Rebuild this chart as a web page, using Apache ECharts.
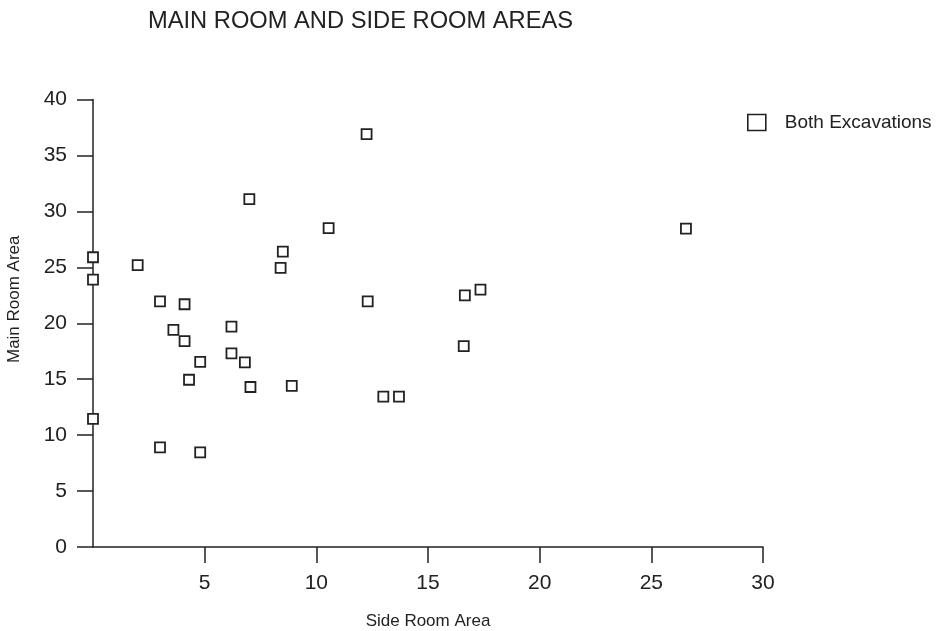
<!DOCTYPE html>
<html>
<head>
<meta charset="utf-8">
<script src="https://cdn.jsdelivr.net/npm/echarts@6/dist/echarts.min.js"></script>
<style>
  html, body { margin: 0; padding: 0; background: #ffffff; }
  #chart { width: 939px; height: 631px; }
</style>
</head>
<body>
<div id="chart"></div>
<script>
// Side room area (x) and main room area (y) for each house, both excavations
const sideRoomArea = [
  0, 0, 2.0, 7.0, 12.25, 10.55, 8.5, 8.4,
  3.0, 4.1, 3.6, 6.2, 4.1, 6.2, 4.8, 6.8, 4.3, 7.05, 8.9,
  0, 3.0, 4.8,
  12.3, 16.65, 17.35, 16.6, 13.0, 13.7,
  26.55
];
const mainRoomArea = [
  25.9, 23.9, 25.2, 31.1, 36.9, 28.5, 26.4, 24.95,
  21.95, 21.7, 19.4, 19.7, 18.4, 17.3, 16.55, 16.5, 14.95, 14.3, 14.4,
  11.45, 8.9, 8.45,
  21.95, 22.5, 23.0, 17.95, 13.45, 13.45,
  28.45
];
const xTicks = [5, 10, 15, 20, 25, 30];
const yTicks = [0, 5, 10, 15, 20, 25, 30, 35, 40];

const points = sideRoomArea.map((x, i) => [x, mainRoomArea[i]]);
const ink = '#222222';

const chart = echarts.init(document.getElementById('chart'), null, { renderer: 'canvas' });
chart.setOption({
  backgroundColor: '#ffffff',
  animation: false,
  title: {
    text: 'MAIN ROOM AND SIDE ROOM AREAS',
    left: 148,
    top: 9,
    padding: 0,
    textStyle: { fontFamily: 'Liberation Sans', fontWeight: 'normal', fontSize: 23.7, color: ink }
  },
  legend: {
    left: 747,
    top: 113,
    padding: 0,
    icon: 'rect',
    itemWidth: 18,
    itemHeight: 16,
    itemStyle: { color: '#ffffff', borderColor: ink, borderWidth: 1.6 },
    textStyle: { fontFamily: 'Liberation Sans', fontSize: 19, color: ink, padding: [0, 0, 0, 14] },
    data: ['Both Excavations']
  },
  grid: { left: 93, top: 99.5, width: 670, height: 447.5, containLabel: false, outerBoundsMode: 'none' },
  xAxis: {
    type: 'value',
    min: 0, max: 30, interval: 5,
    name: 'Side Room Area',
    nameLocation: 'middle',
    nameGap: 66,
    nameTextStyle: { fontFamily: 'Liberation Sans', fontSize: 17, color: ink },
    splitLine: { show: false },
    axisLine: { show: true, onZero: false, lineStyle: { color: ink, width: 1.5 } },
    axisTick: { show: true, inside: false, length: 16, customValues: xTicks, lineStyle: { color: ink, width: 1.5 } },
    axisLabel: { margin: 26, customValues: xTicks, fontFamily: 'Liberation Sans', fontSize: 21, color: ink }
  },
  yAxis: {
    type: 'value',
    min: 0, max: 40, interval: 5,
    name: 'Main Room Area',
    nameLocation: 'middle',
    nameRotate: 90,
    nameGap: 70,
    nameTextStyle: { fontFamily: 'Liberation Sans', fontSize: 17, color: ink, padding: [0, 0, 0, 48] },
    splitLine: { show: false },
    axisLine: { show: true, onZero: false, lineStyle: { color: ink, width: 1.5 } },
    axisTick: { show: true, inside: false, length: 16, customValues: yTicks, lineStyle: { color: ink, width: 1.5 } },
    axisLabel: { margin: 26, customValues: yTicks, fontFamily: 'Liberation Sans', fontSize: 21, color: ink }
  },
  series: [{
    name: 'Both Excavations',
    type: 'scatter',
    symbol: 'rect',
    symbolSize: 10,
    itemStyle: { color: '#ffffff', borderColor: ink, borderWidth: 1.8, opacity: 1 },
    z: 5,
    data: points
  }]
});
</script>
</body>
</html>
